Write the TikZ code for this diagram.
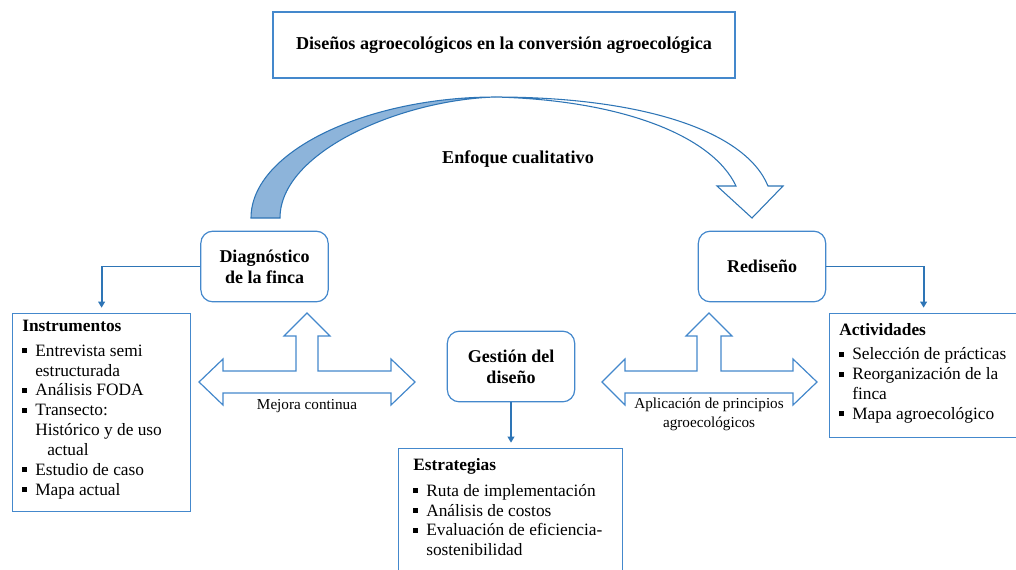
\documentclass[tikz,border=0pt]{standalone}
\usepackage{fontspec}
\setmainfont{Liberation Serif}
\usetikzlibrary{arrows.meta,positioning,calc}
\definecolor{bline}{RGB}{46,117,182}
\definecolor{bbox}{RGB}{68,136,204}
\definecolor{bfill}{RGB}{141,180,218}
\newcommand{\bul}{\rule[0.18em]{0.28em}{0.28em}}
\newcommand{\bi}{\makebox[9.75pt][l]{\bul}}
\newcommand{\ind}{\hspace*{9.75pt}}
\begin{document}
\begin{tikzpicture}[x=0.75pt,y=-0.75pt,
  rbox/.style={draw=bbox,line width=0.9pt,rounded corners=9pt,minimum width=95.5pt,minimum height=53pt,align=center,font=\fontsize{13.5}{15.5}\selectfont\bfseries,inner sep=0pt},
  sbox/.style={draw=bbox,line width=0.9pt,anchor=north west,inner sep=0pt},
  listtxt/.style={anchor=north west,align=left,inner sep=0pt,font=\fontsize{13}{14.9}\selectfont},
  conn/.style={draw=bline,line width=1.4pt,-{Triangle[width=5pt,length=4.5pt]},shorten >=4pt},
  barrow/.style={draw=bbox,line width=0.9pt,fill=white,line join=miter},
  lbl/.style={font=\fontsize{11.4}{14}\selectfont,align=center,inner sep=0pt}
]
\useasboundingbox (0,0) rectangle (1016,569);
\clip (0,0) rectangle (1016,569);

% title
\node[draw=bbox,line width=0.9pt,minimum width=346.5pt,minimum height=49.5pt,inner sep=0pt,font=\fontsize{13.6}{15}\selectfont\bfseries] (title) at (504,45) {Diseños agroecológicos en la conversión agroecológica};

% curved arrow
\fill[bfill,draw=bline,line width=0.8pt] (251,218) .. controls (251,150) and (370,97) .. (495,97)
   .. controls (400,100) and (280,152) .. (280,218) -- cycle;
\draw[bline,line width=0.8pt,fill=white] (495,97) .. controls (640,97) and (745,130) .. (768,186)
   -- (783,186) -- (752,218) -- (717,186) -- (736,186)
   .. controls (712,135) and (620,100) .. (495,97) -- cycle;
\node[font=\fontsize{13.6}{15}\selectfont\bfseries,inner sep=0pt] (enf) at (518,159) {Enfoque cualitativo};

% rounded boxes
\node[rbox] (diag) at (264.5,266.5) {Diagnóstico\\de la finca};
\node[rbox] (redis) at (762,266.5) {Rediseño};
\node[rbox] (gest) at (511,366.5) {Gestión del\\diseño};

% block arrows
\draw[barrow] (199,382) -- (223,359) -- (223,371) -- (296,371) -- (296,336) -- (284,336) -- (307,313) -- (330,336) -- (318,336) -- (318,371) -- (391,371) -- (391,359) -- (415,382) -- (391,405) -- (391,393) -- (223,393) -- (223,405) -- cycle;
\draw[barrow] (602,382) -- (625,359) -- (625,371) -- (697,371) -- (697,336) -- (686,336) -- (709,313) -- (732,336) -- (721,336) -- (721,371) -- (793,371) -- (793,359) -- (817,382) -- (793,405) -- (793,393) -- (625,393) -- (625,405) -- cycle;
\node[lbl] (mej) at (307,406) {Mejora continua};
\node[lbl] (apl) at (709,414.5) {Aplicación de principios\\agroecológicos};

% list boxes
\node[sbox,minimum width=133.5pt,minimum height=148.5pt] (instr) at (12,313) {};
\node[sbox,minimum width=141pt,minimum height=93pt] (activ) at (829,313) {};
\node[sbox,minimum width=168pt,minimum height=100pt] (estr) at (398,448) {};

\node[listtxt] (instrt) at (22,320) {\textbf{Instrumentos}\\[3.5pt]
\bi Entrevista semi\\ \ind estructurada\\ \bi Análisis FODA\\ \bi Transecto:\\ \ind Histórico y de uso\\ \ind\hspace*{9pt}actual\\ \bi Estudio de caso\\ \bi Mapa actual};
\node[listtxt] (activt) at (839,323) {\textbf{Actividades}\\[3.5pt]
\bi Selección de prácticas\\ \bi Reorganización de la\\ \ind finca\\ \bi Mapa agroecológico};
\node[listtxt] (estrt) at (413,458) {\textbf{Estrategias}\\[4.5pt]
\bi Ruta de implementación\\ \bi Análisis de costos\\ \bi Evaluación de eficiencia-\\ \ind sostenibilidad};

% connectors
\draw[conn] (diag.west) -| (instr.north);
\draw[conn] (redis.east) -| (activ.north);
\draw[conn] (gest.south) -- (gest.south |- estr.north);
\end{tikzpicture}
\end{document}
